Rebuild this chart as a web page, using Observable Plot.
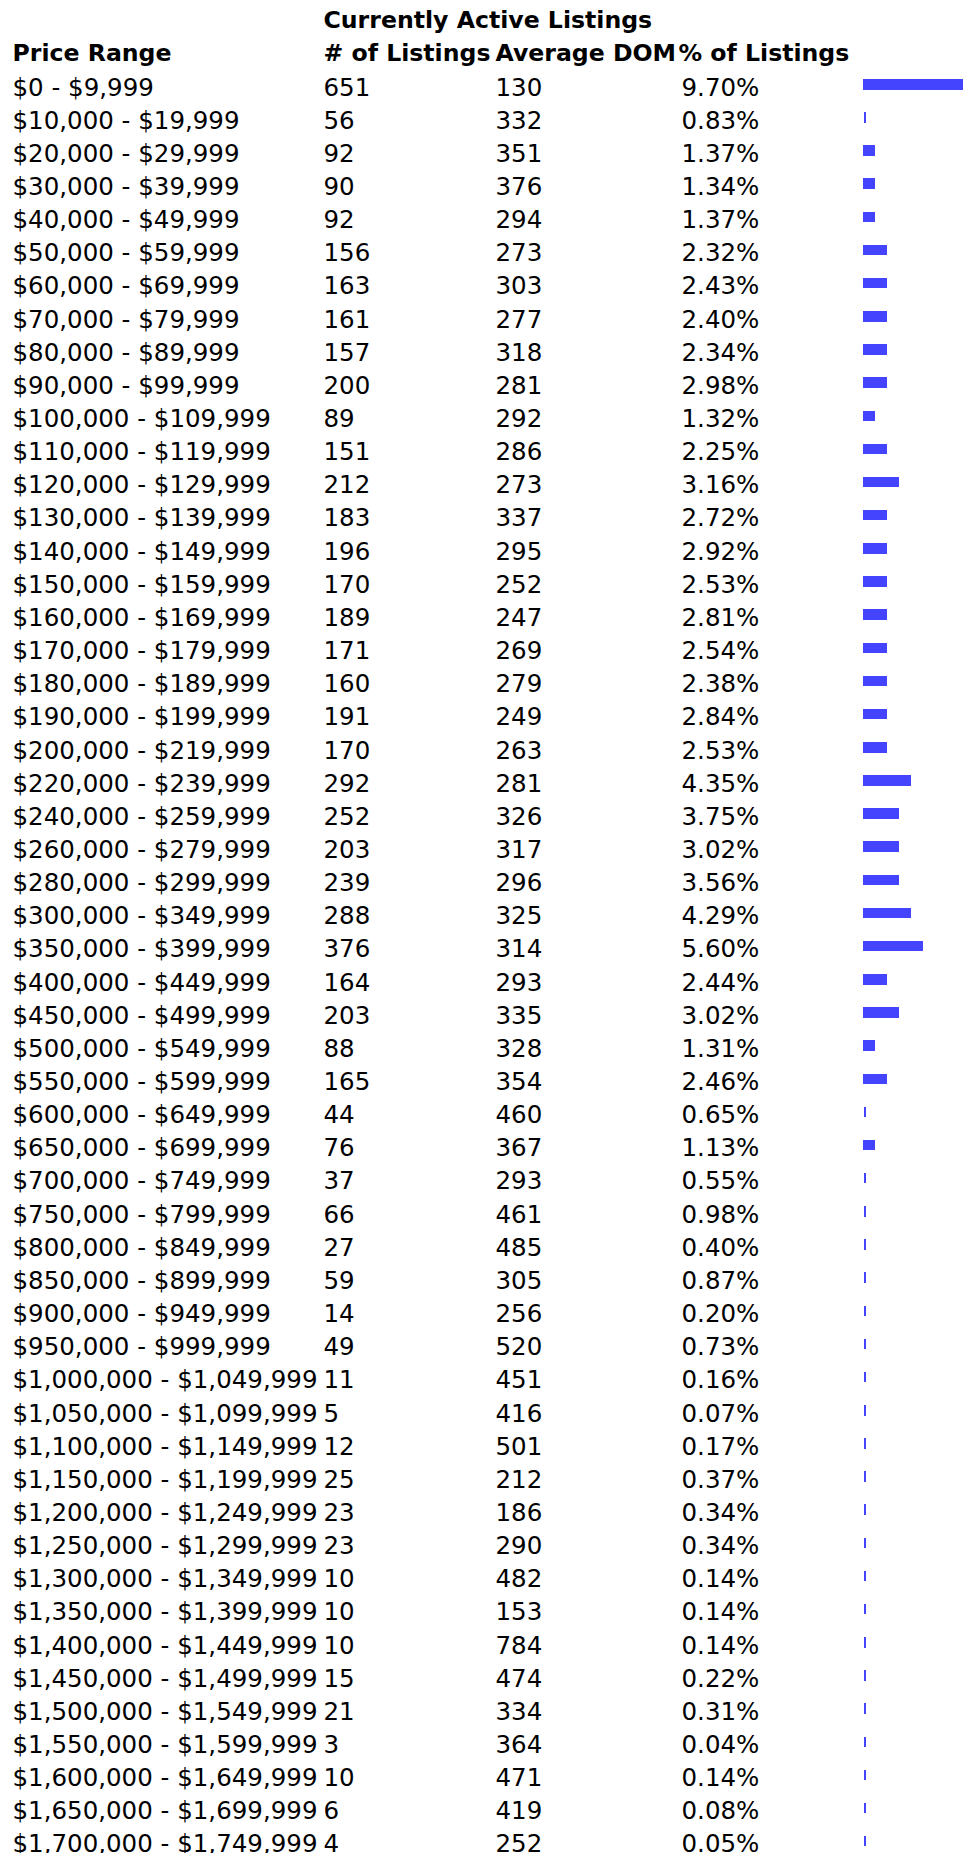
<!DOCTYPE html>
<html><head><meta charset="utf-8">
<script src="https://cdn.jsdelivr.net/npm/d3@7"></script>
<script src="https://cdn.jsdelivr.net/npm/@observablehq/plot@0.6"></script>
<style>html,body{margin:0;padding:0;background:#fff;overflow:hidden}#chart svg{display:block}</style>
</head><body><div id="chart"></div>
<script>
const title = "Currently Active Listings";
const columnHeaders = ["Price Range", "# of Listings", "Average DOM", "% of Listings"];

const priceRanges = [
  "$0 - $9,999", "$10,000 - $19,999", "$20,000 - $29,999", "$30,000 - $39,999", "$40,000 - $49,999",
  "$50,000 - $59,999", "$60,000 - $69,999", "$70,000 - $79,999", "$80,000 - $89,999", "$90,000 - $99,999",
  "$100,000 - $109,999", "$110,000 - $119,999", "$120,000 - $129,999", "$130,000 - $139,999", "$140,000 - $149,999",
  "$150,000 - $159,999", "$160,000 - $169,999", "$170,000 - $179,999", "$180,000 - $189,999", "$190,000 - $199,999",
  "$200,000 - $219,999", "$220,000 - $239,999", "$240,000 - $259,999", "$260,000 - $279,999", "$280,000 - $299,999",
  "$300,000 - $349,999", "$350,000 - $399,999", "$400,000 - $449,999", "$450,000 - $499,999", "$500,000 - $549,999",
  "$550,000 - $599,999", "$600,000 - $649,999", "$650,000 - $699,999", "$700,000 - $749,999", "$750,000 - $799,999",
  "$800,000 - $849,999", "$850,000 - $899,999", "$900,000 - $949,999", "$950,000 - $999,999", "$1,000,000 - $1,049,999",
  "$1,050,000 - $1,099,999", "$1,100,000 - $1,149,999", "$1,150,000 - $1,199,999", "$1,200,000 - $1,249,999", "$1,250,000 - $1,299,999",
  "$1,300,000 - $1,349,999", "$1,350,000 - $1,399,999", "$1,400,000 - $1,449,999", "$1,450,000 - $1,499,999", "$1,500,000 - $1,549,999",
  "$1,550,000 - $1,599,999", "$1,600,000 - $1,649,999", "$1,650,000 - $1,699,999", "$1,700,000 - $1,749,999"
];
const listings = [651, 56, 92, 90, 92, 156, 163, 161, 157, 200, 89, 151, 212, 183, 196, 170, 189, 171, 160, 191,
  170, 292, 252, 203, 239, 288, 376, 164, 203, 88, 165, 44, 76, 37, 66, 27, 59, 14, 49, 11,
  5, 12, 25, 23, 23, 10, 10, 10, 15, 21, 3, 10, 6, 4];
const avgDom = [130, 332, 351, 376, 294, 273, 303, 277, 318, 281, 292, 286, 273, 337, 295, 252, 247, 269, 279, 249,
  263, 281, 326, 317, 296, 325, 314, 293, 335, 328, 354, 460, 367, 293, 461, 485, 305, 256, 520, 451,
  416, 501, 212, 186, 290, 482, 153, 784, 474, 334, 364, 471, 419, 252];
const pctListings = [9.70, 0.83, 1.37, 1.34, 1.37, 2.32, 2.43, 2.40, 2.34, 2.98, 1.32, 2.25, 3.16, 2.72, 2.92, 2.53, 2.81, 2.54, 2.38, 2.84,
  2.53, 4.35, 3.75, 3.02, 3.56, 4.29, 5.60, 2.44, 3.02, 1.31, 2.46, 0.65, 1.13, 0.55, 0.98, 0.40, 0.87, 0.20, 0.73, 0.16,
  0.07, 0.17, 0.37, 0.34, 0.34, 0.14, 0.14, 0.14, 0.22, 0.31, 0.04, 0.14, 0.08, 0.05];
// bar length in blocks, as drawn in the picture
const barBlocks = [9, 0, 1, 1, 1, 2, 2, 2, 2, 2, 1, 2, 3, 2, 2, 2, 2, 2, 2, 2,
  2, 4, 3, 3, 3, 4, 5, 2, 3, 1, 2, 0, 1, 0, 0, 0, 0, 0, 0, 0,
  0, 0, 0, 0, 0, 0, 0, 0, 0, 0, 0, 0, 0, 0];

const rows = priceRanges.map((range, i) => ({
  range, listings: listings[i], dom: avgDom[i], pct: pctListings[i], blocks: barBlocks[i]
}));

const W = 963, H = 1853;
const FONT = "'DejaVu Sans', Verdana, sans-serif";
const FS = 24.5, FSB = 23.6;
const BLUE = "#4444ff";
const rowTop = 70.6, rowStep = 33.15;
const colX = [12, 323, 495, 681];
const headX = [12, 323, 495, 678];
const barInsetTop = 8.4, barInsetBottom = 14.25;

const headerMarks = columnHeaders.map((h, k) =>
  Plot.text([h], {text: d => d, frameAnchor: "top-left", textAnchor: "start", lineAnchor: "bottom",
    dx: headX[k], dy: 60, fontSize: FSB, fontWeight: "bold", fill: "#000"}));

const colFields = [d => d.range, d => String(d.listings), d => String(d.dom), d => d.pct.toFixed(2) + "%"];
const cellMarks = colFields.map((f, k) =>
  Plot.text(rows, {y: "range", text: f, frameAnchor: "left", textAnchor: "start", lineAnchor: "middle",
    dx: colX[k], fontSize: FS, fill: "#000"}));

const chart = Plot.plot({
  width: W, height: H,
  marginTop: 0, marginRight: 0, marginBottom: 0, marginLeft: 0,
  style: {fontFamily: FONT, fontSize: FS + "px", background: "#fff", color: "#000", overflow: "hidden"},
  x: {type: "linear", domain: [0, 1], range: [863, 875], axis: null},
  y: {type: "band", domain: priceRanges, range: [rowTop, rowTop + rowStep * priceRanges.length],
      padding: 0, round: false, axis: null},
  marks: [
    Plot.text([title], {text: d => d, frameAnchor: "top-left", textAnchor: "start", lineAnchor: "bottom",
      dx: 323, dy: 27, fontSize: FSB, fontWeight: "bold", fill: "#000"}),
    ...headerMarks,
    ...cellMarks,
    Plot.tickX(rows, {x: 0, y: "range", stroke: BLUE, strokeWidth: 2, dx: 1,
      insetTop: barInsetTop, insetBottom: barInsetBottom, shapeRendering: "crispEdges"}),
    Plot.barX(rows, {x1: 0, x2: "blocks", y: "range", fill: BLUE,
      insetTop: barInsetTop, insetBottom: barInsetBottom, shapeRendering: "crispEdges"})
  ]
});
document.getElementById("chart").append(chart);
</script>
</body></html>
